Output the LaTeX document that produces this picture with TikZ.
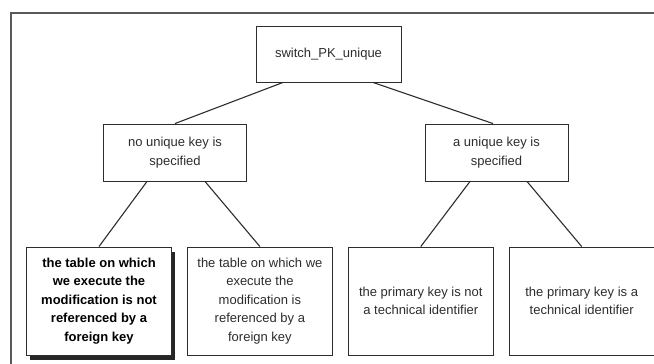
\documentclass[tikz,border=0pt]{standalone}
\usepackage{fontspec}
\setmainfont{Liberation Sans}
\usepackage{tikz}
\usetikzlibrary{positioning,shadows}
\definecolor{inkcolor}{RGB}{45, 45, 45}

\begin{document}
\begin{tikzpicture}[
    x=1pt, y=-1pt,
    node distance=15pt,
    box/.style={rectangle, draw=inkcolor, line width=0.9pt, fill=white, align=center, text=inkcolor, font=\fontsize{13}{18.5}\selectfont},
    topbox/.style={box, minimum width=145pt, minimum height=56pt},
    midbox/.style={box, minimum width=143pt, minimum height=57pt},
    leafbox/.style={box, minimum width=145pt, minimum height=108pt},
    boldleaf/.style={leafbox, text=black, font=\fontsize{13}{18.5}\selectfont\bfseries, drop shadow={shadow xshift=3.5pt, shadow yshift=-4.5pt, fill=black!85, opacity=1}},
    link/.style={draw=inkcolor, line width=1.1pt}
]
    \useasboundingbox (0,0) rectangle (654,364);
    % outer frame
    \draw[black!65, line width=1.6pt] (11,13) rectangle (680,400);

    % root and the two cases
    \node[topbox] (root) at (328.5,54) {switch\_PK\_unique};
    \node[midbox] (nouk) at (175,152.5) {no unique key is\\specified};
    \node[midbox] (uk) at (496.5,152.5) {a unique key is\\specified};

    % leaves
    \node[boldleaf] (notref) at (99,301) {the table on which\\we execute the\\modification is not\\referenced by a\\foreign key};
    \node[leafbox, right=of notref] (ref) {the table on which we\\execute the\\modification is\\referenced by a\\foreign key};
    \node[leafbox, right=of ref] (nottech) {the primary key is not\\a technical identifier};
    \node[leafbox, right=of nottech] (tech) {the primary key is a\\technical identifier};

    \draw[link] ([xshift=-45.5pt]root.south) -- (nouk.north);
    \draw[link] ([xshift=44.5pt]root.south) -- ([xshift=-3.5pt]uk.north);
    \draw[link] ([xshift=-28pt]nouk.south) -- (notref.north);
    \draw[link] ([xshift=30pt]nouk.south) -- (ref.north);
    \draw[link] ([xshift=-26.5pt]uk.south) -- (nottech.north);
    \draw[link] ([xshift=30.5pt]uk.south) -- (tech.north);
\end{tikzpicture}
\end{document}
